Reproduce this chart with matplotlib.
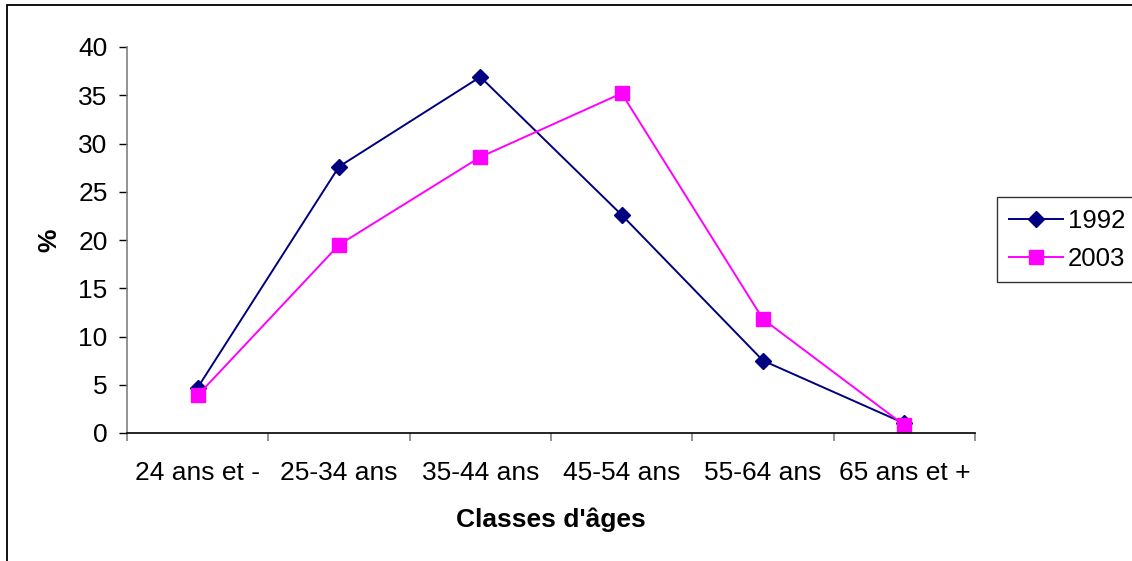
import matplotlib
matplotlib.use("Agg")
import matplotlib.pyplot as plt
from matplotlib.patches import Rectangle
import numpy as np

plt.rcParams['font.family'] = ['Liberation Sans', 'DejaVu Sans']

# age classes and share (%) per survey year
classes = ["24 ans et -", "25-34 ans", "35-44 ans", "45-54 ans", "55-64 ans", "65 ans et +"]
pct_1992 = [4.7, 27.6, 36.9, 22.6, 7.5, 1.0]
pct_2003 = [3.9, 19.5, 28.6, 35.2, 11.8, 0.8]

fig = plt.figure(figsize=(11.32, 5.61), dpi=100)
ax = fig.add_axes([127/1132, 1-433/561, 848/1132, 386/561])

x = np.arange(len(classes))
ax.plot(x, pct_1992, color='#000080', lw=1.4, marker='D', ms=8.5,
        mfc='#000080', mec='#000080', label='1992')
ax.plot(x, pct_2003, color='#FF00FF', lw=1.4, marker='s', ms=10,
        mfc='#FF00FF', mec='#FF00FF', label='2003')

ax.set_xlim(-0.5, len(classes)-0.5)
ax.set_ylim(0, 40)
ax.set_yticks(range(0, 41, 5))
ax.tick_params(axis='y', labelsize=19, length=6, width=1, color='black', pad=8)

# ticks between classes, labels at class centres
ax.set_xticks(np.arange(-0.5, len(classes), 1))
ax.set_xticklabels([])
ax.tick_params(axis='x', which='major', length=6, width=1.2, color='#808080')
ax.set_xticks(x, minor=True)
ax.set_xticklabels(classes, minor=True)
ax.tick_params(axis='x', which='minor', length=0, labelsize=19, pad=20)

for s in ['top', 'right']:
    ax.spines[s].set_visible(False)
ax.spines['left'].set_color('#808080')
ax.spines['left'].set_linewidth(1.2)
ax.spines['bottom'].set_color('black')
ax.spines['bottom'].set_linewidth(1.2)

ax.set_xlabel("Classes d'âges", fontsize=19, fontweight='bold', labelpad=16)
ax.set_ylabel("%", fontsize=19, fontweight='bold', labelpad=12)

leg = fig.legend(loc='upper left', bbox_to_anchor=(997/1132, 1-197/561),
                 fontsize=18.5, frameon=True, fancybox=False, edgecolor='black',
                 handlelength=2.1, handletextpad=0.2, borderpad=0.45,
                 borderaxespad=0, labelspacing=0.55)
leg.get_frame().set_linewidth(1.0)

# outer chart frame
fig.add_artist(Rectangle((7/1132, -0.1), 2, 1.1 - 5/561, transform=fig.transFigure,
                         fill=False, edgecolor='black', lw=1.3))

fig.savefig('out.png', dpi=100)
